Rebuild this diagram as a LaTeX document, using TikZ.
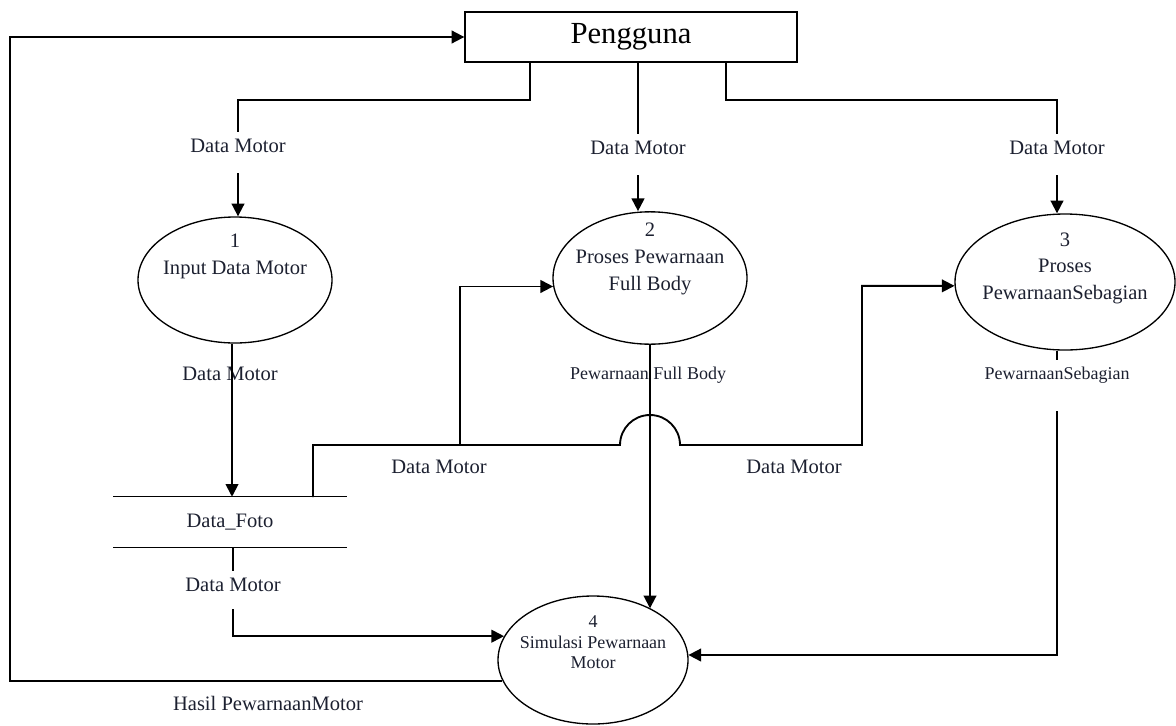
\documentclass[tikz,border=0pt]{standalone}
\usepackage{fontspec}
\setmainfont{Liberation Serif}
\usetikzlibrary{shapes.geometric}
\usetikzlibrary{arrows.meta}
\definecolor{ink}{RGB}{28,32,48}

\begin{document}
\begin{tikzpicture}
[x=0.75pt, y=-0.75pt,
every node/.style = {align=center, text=ink, font=\fontsize{15.4}{20}\selectfont}]
\tikzstyle{proc} = [ellipse, draw=black, line width=1pt, inner sep=-6pt]
\tikzstyle{flow} = [draw=black, line width=1.4pt, -{Triangle[length=9.5pt,width=9.5pt]}]
\tikzstyle{wire} = [draw=black, line width=1.4pt]
\tikzstyle{lbl} = [inner sep=5pt]
\tikzstyle{small} = [font=\fontsize{13.5}{15.5}\selectfont]

\useasboundingbox (0,0) rectangle (1176,725);

% entitas luar
\node[rectangle, draw=black, line width=1pt, minimum width=249pt, minimum height=37.5pt,
  text=black, font=\fontsize{23}{27}\selectfont] (user) at (631,37) {Pengguna};

% proses
\node[proc, minimum width=145.5pt, minimum height=94.5pt] (p1) at (235,280) {1\\Input Data Motor\\[19pt]~};
\node[proc, minimum width=145.5pt, minimum height=94.5pt] (p2) at (650,278) {2\\Proses Pewarnaan\\Full Body\\[12pt]~};
\node[proc, minimum width=165pt, minimum height=102pt] (p3) at (1065,282) {3\\Proses\\PewarnaanSebagian\\[4pt]~};
\node[proc, small, minimum width=142.5pt, minimum height=96pt] (p4) at (593,660) {4\\Simulasi Pewarnaan\\Motor\\[11pt]~};

% data store
\node[minimum width=175pt, minimum height=37.5pt, inner sep=0pt] (store) at (230,522) {Data\_Foto};
\draw[wire, line width=1pt] (store.north west) -- (store.north east);
\draw[wire, line width=1pt] (store.south west) -- (store.south east);

% label aliran
\node[lbl] (l1) at (238,146) {Data Motor};
\node[lbl] (l2) at (638,148) {Data Motor};
\node[lbl] (l3) at (1057,148) {Data Motor};
\node[lbl] (l4) at (230,374) {Data Motor};
\node[lbl] (l5) at (233,585) {Data Motor};
\node[lbl] (l6) at (439,467) {Data Motor};
\node[lbl] (l7) at (794,467) {Data Motor};
\node[lbl, small] (l8) at (648,375) {Pewarnaan Full Body};
\node[lbl, small] (l9) at (1057,375) {PewarnaanSebagian};
\node[lbl] (l10) at (268,703) {Hasil PewarnaanMotor};

\coordinate (tap) at (313,497);
\coordinate (fork) at (460,445);

% aliran dari pengguna
\draw[wire] (530,0 |- user.south) -- (530,100) -| (l1.north);
\draw[flow] ([yshift=-10pt]l1.south) -- (p1.north -| l1);
\draw[wire] (l2.north |- user.south) -- (l2.north);
\draw[flow] ([yshift=-10pt]l2.south) -- (p2.north -| l2);
\draw[wire] (726,0 |- user.south) -- (726,100) -| (l3.north);
\draw[flow] ([yshift=-10pt]l3.south) -- (l3 |- p3.north);

% proses 1 ke data store
\draw[flow] (232,0 |- p1.south) -- (232,0 |- store.north);

% data store ke proses 2 dan 3
\draw[flow] (tap) -- (313,445) -- (620,445) arc[start angle=180, end angle=0, radius=22.5pt]
  -- (862,445) |- (p3.182);
\draw[flow] (fork) |- (p2.185);

% ke simulasi
\draw[wire] (store.south -| l5) -- (l5.north);
\draw[flow] ([yshift=-8pt]l5.south) |- (p4.165);
\draw[flow] (p2.south) -- (p2.south |- p4.42);
\draw[wire] (l9.north |- p3.south) -- (l9.north);
\draw[flow] ([yshift=-16pt]l9.south) |- (p4.3);

% hasil kembali ke pengguna
\draw[flow] (p4.193) -- (p4.193 -| 10,0) |- (user.west);

\end{tikzpicture}
\end{document}
